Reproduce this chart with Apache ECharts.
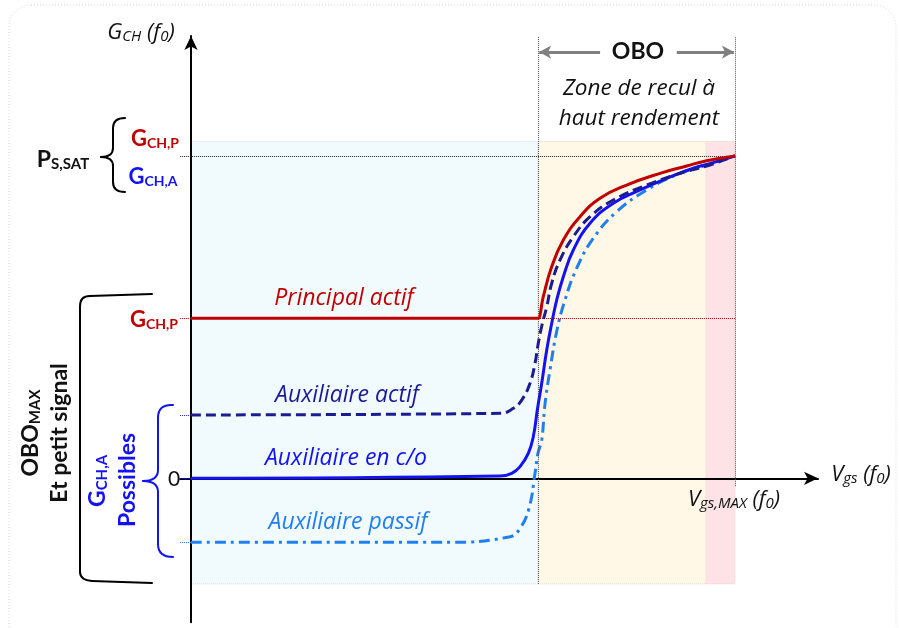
<!DOCTYPE html>
<html><head><meta charset="utf-8">
<script src="https://cdn.jsdelivr.net/npm/echarts@6/dist/echarts.min.js"></script>
<style>html,body{margin:0;padding:0;background:#fff}#c{width:899px;height:628px}</style>
</head><body><div id="c"></div>
<script>
// ---- data (x in Vgs units, Vgs,MAX = 10 ; y in gain units, G_CH,P = 10) ----
const vgsMax = 10;
const oboStart = 6.38;
const pinkStart = 9.47;
const regionTop = 21.05;
const regionBottom = -6.6;
const pSat = 20.15;
const gchP = 10;
const auxActifLevel = 3.96;
const auxPassifLevel = -4;

const principalActif = [[0,10],[6.37,10],[6.384,10],[6.476,11.35],[6.631,13.23],[6.844,14.89],[7.151,16.35],[7.518,17.5],[8.009,18.33],[8.621,19.06],[9.112,19.52],[9.479,19.85],[10,20.15]];
const auxiliaireActif = [[0,3.96],[5.68,4.06],[5.925,4.375],[6.079,4.89],[6.232,5.94],[6.324,7.19],[6.384,8.44],[6.452,9.58],[6.539,10.72],[6.631,12.19],[6.783,13.64],[7.028,15.1],[7.335,16.35],[7.763,17.39],[8.377,18.33],[8.99,19.06],[9.479,19.52],[10,20.15]];
const auxiliaireCO = [[0,0],[5.68,0.14],[5.895,0.31],[6.048,0.73],[6.2,1.56],[6.292,2.6],[6.366,4.27],[6.447,5.94],[6.539,8.02],[6.631,9.69],[6.722,11.14],[6.844,12.6],[7.028,14.27],[7.335,15.94],[7.763,17.19],[8.254,18.02],[8.744,18.75],[9.233,19.38],[9.601,19.73],[10,20.15]];
const auxiliairePassif = [[0,-4],[4.76,-4],[5.864,-3.65],[6.048,-3.13],[6.213,-1.88],[6.324,0.31],[6.379,1.58],[6.447,2.39],[6.507,4.64],[6.599,6.77],[6.728,9.27],[6.875,11.14],[7.09,13.13],[7.395,15.0],[7.825,16.66],[8.377,18.02],[8.99,19.06],[9.479,19.58],[10,20.15]];
const seriesNames = ['Principal actif','Auxiliaire actif','Auxiliaire en c/o','Auxiliaire passif'];

// ---- styles ----
const FONT = 'Lato, "Open Sans", sans-serif';
const IFONT = '"Open Sans", Lato, sans-serif';
const RED = '#c00000', NAVY = '#1c1c92', BLUE = '#1212f2', LBLUE = '#1f7ff0';

function dotted(color, x0, x1, y0, y1){
  return [{coord:[x0,y0], lineStyle:{color:color,type:'dotted',width:1}},{coord:[x1,y1]}];
}

const chart = echarts.init(document.getElementById('c'), null, {renderer:'canvas'});

const option = {
  animation:false,
  backgroundColor:'#fff',
  grid:{left:180.12, width:637.9, top:36.06, height:586.24},
  xAxis:{type:'value', min:-0.2, max:11.526, z:3,
    axisLine:{onZero:true, symbol:['none','arrow'], symbolSize:[10,14], lineStyle:{color:'#000', width:2}},
    axisTick:{show:false}, axisLabel:{show:false}, splitLine:{show:false}},
  yAxis:{type:'value', min:-9, max:27.64, z:3,
    axisLine:{show:true, onZero:true, symbol:['none','arrow'], symbolSize:[10,14], lineStyle:{color:'#000', width:2}},
    axisTick:{show:false}, axisLabel:{show:false}, splitLine:{show:false}},
  series:[
    {type:'line', name:'regions', data:[], z:1,
      markArea:{silent:true, data:[
        [{xAxis:0, yAxis:regionBottom, itemStyle:{color:'#f1fafd', borderColor:'#d8dde0', borderWidth:1, borderType:'dotted'}},{xAxis:oboStart, yAxis:regionTop}],
        [{xAxis:oboStart, yAxis:regionBottom, itemStyle:{color:'#fff8e7', borderColor:'#dcd8cc', borderWidth:1, borderType:'dotted'}},{xAxis:pinkStart, yAxis:regionTop}],
        [{xAxis:pinkStart, yAxis:regionBottom, itemStyle:{color:'#fde3e5', borderColor:'#f0d0d2', borderWidth:1, borderType:'dotted'}},{xAxis:vgsMax, yAxis:regionTop}]
      ]},
      markLine:{silent:true, symbol:'none', label:{show:false}, data:[
        dotted('#222', -0.2, vgsMax, pSat, pSat),
        dotted(RED, -0.2, 0, gchP, gchP),
        dotted(RED, oboStart, vgsMax, gchP, gchP),
        dotted(NAVY, -0.2, 0, auxActifLevel, auxActifLevel),
        dotted(BLUE, -0.2, 0, 0, 0),
        dotted(LBLUE, -0.2, 0, auxPassifLevel, auxPassifLevel),
        dotted('#555', oboStart, oboStart, regionBottom, 27.6),
        dotted('#555', vgsMax, vgsMax, -0.5, 27.6)
      ]}
    },
    {type:'line', name:'obo', data:[], z:2,
      markLine:{silent:true, symbol:['none','arrow'], symbolSize:[10,12], label:{show:false},
        lineStyle:{color:'#808080', width:3, type:'solid'}, data:[
          [{coord:[7.52,26.64]},{coord:[6.40,26.64]}],
          [{coord:[8.93,26.64]},{coord:[9.98,26.64]}]
        ]}
    },
    {type:'line', name:seriesNames[3], data:auxiliairePassif, smooth:0.45, showSymbol:false, z:4,
      lineStyle:{color:LBLUE, width:3, type:[11,5,3,5]}},
    {type:'line', name:seriesNames[2], data:auxiliaireCO, smooth:0.45, showSymbol:false, z:5,
      lineStyle:{color:BLUE, width:3}},
    {type:'line', name:seriesNames[1], data:auxiliaireActif, smooth:0.45, showSymbol:false, z:6,
      lineStyle:{color:NAVY, width:3, type:[10,5]}},
    {type:'line', name:seriesNames[0], data:principalActif, smooth:0.45, showSymbol:false, z:7,
      lineStyle:{color:RED, width:3}}
  ],
  graphic:[]
};

function rt(x, y, content, rich){
  return {type:'text', x:x, y:y, silent:true, z:100,
    style:{text:content, rich:rich, align:'center', verticalAlign:'middle', fontFamily:FONT}};
}
const G = [];
G.push({type:'rect', shape:{x:9, y:5, width:887, height:660, r:22}, silent:true, z:-10,
  style:{fill:'none', stroke:'#d6d6d6', lineWidth:1, lineDash:[1,2]}});

function richSub(color, bigSize, subSize, weight, style, fam){
  const f = fam || FONT;
  return {
    m:{fontSize:bigSize, lineHeight:bigSize, fill:color, fontWeight:weight, fontStyle:style, fontFamily:f},
    s:{fontSize:subSize, lineHeight:4, verticalAlign:'bottom', fill:color, fontWeight:weight, fontStyle:style, fontFamily:f}
  };
}
function strokePath(start, segs, color){
  let p = start.slice();
  segs.forEach(function(s){
    if (s[0] === 'L') {
      G.push({type:'line', silent:true, z:100, shape:{x1:p[0], y1:p[1], x2:s[1], y2:s[2]}, style:{stroke:color, lineWidth:2, lineCap:'round'}});
      p = [s[1], s[2]];
    } else {
      G.push({type:'bezierCurve', silent:true, z:100, shape:{x1:p[0], y1:p[1], cpx1:s[1], cpy1:s[2], x2:s[3], y2:s[4]}, style:{stroke:color, fill:'none', lineWidth:2, lineCap:'round'}});
      p = [s[3], s[4]];
    }
  });
}
// axis titles
G.push(rt(141, 33, '{m|G}{s|CH}{m| (f}{s|0}{m|)}', richSub('#111',22,15,'normal','italic',IFONT)));
G.push(rt(861, 475, '{m|V}{s|gs}{m| (f}{s|0}{m|)}', richSub('#111',22,15,'normal','italic',IFONT)));
G.push(rt(734, 500, '{m|V}{s|gs,MAX}{m| (f}{s|0}{m|)}', richSub('#111',22,15,'normal','italic',IFONT)));
// OBO header
G.push({type:'text', x:638, y:52, silent:true, z:100, style:{text:'OBO', fontFamily:FONT, fontSize:23, fontWeight:'bold', fill:'#111', align:'center', verticalAlign:'middle'}});
G.push({type:'text', x:639, y:89, silent:true, z:100, style:{text:'Zone de recul à', fontFamily:IFONT, fontSize:22.5, fontStyle:'italic', fill:'#111', align:'center', verticalAlign:'middle'}});
G.push({type:'text', x:639, y:119, silent:true, z:100, style:{text:'haut rendement', fontFamily:IFONT, fontSize:22.5, fontStyle:'italic', fill:'#111', align:'center', verticalAlign:'middle'}});
// P_S,SAT block
G.push(rt(63, 160, '{m|P}{s|S,SAT}', richSub('#111',23,15,'bold','normal')));
G.push(rt(155, 139, '{m|G}{s|CH,P}', richSub(RED,22,14,'bold','normal')));
G.push(rt(153, 177, '{m|G}{s|CH,A}', richSub(BLUE,22,14,'bold','normal')));
G.push(rt(154, 320, '{m|G}{s|CH,P}', richSub(RED,22,14,'bold','normal')));
G.push({type:'text', x:174, y:479, silent:true, z:100, style:{text:'0', fontFamily:FONT, fontSize:21, fill:'#111', align:'center', verticalAlign:'middle'}});
// small brace
strokePath([125,118], [['Q',113,118,113,128],['L',113,148],['Q',113,157,101,157],['Q',113,157,113,166],['L',113,182],['Q',113,192,125,192]], '#000');
// big bracket
strokePath([152,294], [['L',90,296],['Q',80,296,80,306],['L',80,572],['Q',80,580,92,581],['L',152,583]], '#000');
// blue brace
strokePath([173,405], [['Q',158,404,158,418],['L',158,470],['Q',158,481,143,481],['Q',158,481,158,492],['L',158,544],['Q',158,557,173,557]], BLUE);
// rotated labels
G.push(Object.assign(rt(31, 433, '{m|OBO}{s|MAX}', richSub('#111',23,15,'bold','normal')), {rotation:Math.PI/2}));
G.push({type:'text', x:60, y:433, rotation:Math.PI/2, silent:true, z:100, style:{text:'Et petit signal', fontFamily:FONT, fontSize:23, fontWeight:'bold', fill:'#111', align:'center', verticalAlign:'middle'}});
G.push(Object.assign(rt(98, 481, '{m|G}{s|CH,A}', richSub(BLUE,23,15,'bold','normal')), {rotation:Math.PI/2}));
G.push({type:'text', x:128, y:480, rotation:Math.PI/2, silent:true, z:100, style:{text:'Possibles', fontFamily:FONT, fontSize:23, fontWeight:'bold', fill:BLUE, align:'center', verticalAlign:'middle'}});
// curve labels
const lbl = [[seriesNames[0],344,298,RED],[seriesNames[1],347,395,NAVY],[seriesNames[2],346,458,BLUE],[seriesNames[3],348,522,LBLUE]];
lbl.forEach(function(l){
  G.push({type:'text', x:l[1], y:l[2], silent:true, z:100, style:{text:l[0], fontFamily:IFONT, fontSize:23, fontStyle:'italic', fill:l[3], align:'center', verticalAlign:'middle'}});
});
option.graphic = G;
chart.setOption(option);
</script>
</body></html>
